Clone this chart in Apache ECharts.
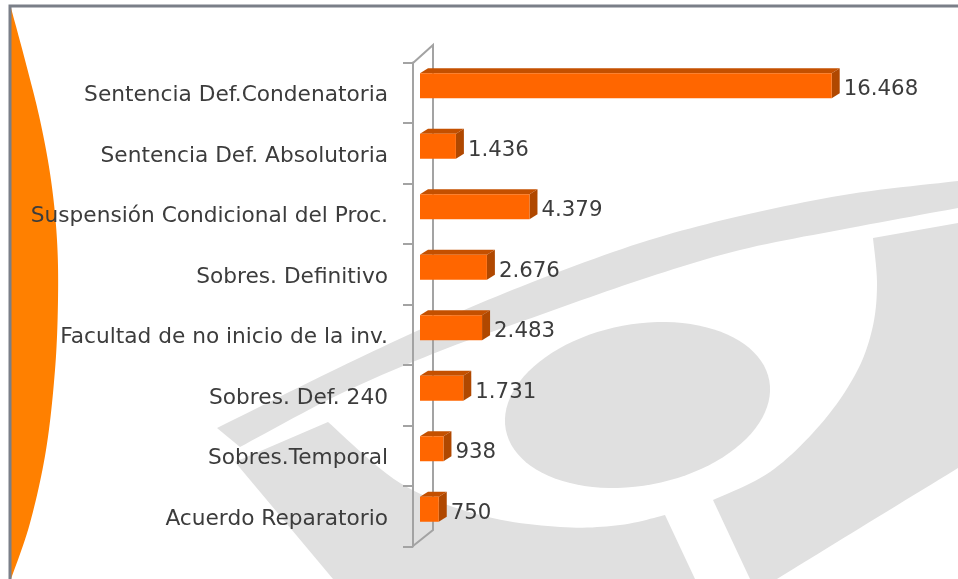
<!DOCTYPE html>
<html>
<head>
<meta charset="utf-8">
<style>
html,body{margin:0;padding:0;background:#fff;}
#c{width:958px;height:579px;filter:blur(0.55px);}
</style>
<script src="https://cdn.jsdelivr.net/npm/echarts@6/dist/echarts.min.js"></script>
</head>
<body>
<div id="c"></div>
<script>
const categories = ['Sentencia Def.Condenatoria','Sentencia Def. Absolutoria','Suspensión Condicional del Proc.','Sobres. Definitivo','Facultad de no inicio de la inv.','Sobres. Def. 240','Sobres.Temporal','Acuerdo Reparatorio'];
const values = [16468,1436,4379,2676,2483,1731,938,750];

const fmt = v => String(v).replace(/\B(?=(\d{3})+$)/g,'.');

// Catmull-Rom sampling of a curved edge into a dense polyline
function curve(p){
  const out=[];
  for(let i=0;i<p.length-1;i++){
    const a=p[Math.max(i-1,0)],b=p[i],c=p[i+1],d=p[Math.min(i+2,p.length-1)];
    for(let k=0;k<12;k++){
      const t=k/12,t2=t*t,t3=t2*t;
      out.push([0,1].map(j=>0.5*(2*b[j]+(c[j]-a[j])*t+(2*a[j]-5*b[j]+4*c[j]-d[j])*t2+(3*b[j]-a[j]-3*c[j]+d[j])*t3)));
    }
  }
  out.push(p[p.length-1]);
  return out;
}
// background eye-logo iris outline
function tiltedEllipse(cx,cy,a,b,deg){
  const pts=[],th=deg*Math.PI/180;
  for(let k=0;k<96;k++){
    const u=k/96*2*Math.PI,x=a*Math.cos(u),y=b*Math.sin(u);
    pts.push([cx+x*Math.cos(th)+y*Math.sin(th),cy-x*Math.sin(th)+y*Math.cos(th)]);
  }
  return pts;
}
const GREY='#e0e0e0';
const shapes=[
  curve([[217,428],[330,372],[430,325],[530,283],[640,243],[740,216],[850,194],[958,181]])
    .concat(curve([[958,208],[850,228],[740,250],[640,280],[540,315],[440,351],[340,394],[240,447]])),
  [[328,422]].concat(curve([[328,422],[400,483],[480,515],[560,527],[620,525],[665,515]])).concat([[695,579],[333,579],[235,462]]),
  [[873,238],[958,223],[958,468]].concat(curve([[958,468],[860,528],[777,579]])).concat([[750,579]]).concat(curve([[713,500],[770,472],[820,425],[855,375],[872,330],[877,285],[873,238]])),
  tiltedEllipse(637.5,405,134,80.6,10.6)
];
const crescent=curve([[11,8],[25,60],[40,120],[51,180],[57,240],[58,300],[55,370],[46,450],[30,523],[11,579]]);

const chart=echarts.init(document.getElementById('c'),null,{renderer:'canvas'});
chart.setOption({
  backgroundColor:'#fff',
  animation:false,
  graphic:{elements:[
    ...shapes.map(s=>({type:'polygon',z:0,silent:true,shape:{points:s},style:{fill:GREY}})),
    {type:'polygon',z:0,silent:true,shape:{points:crescent},style:{fill:'#ff8000'}},
    {type:'polyline',z:1,silent:true,shape:{points:[[10,579],[10,6],[958,6]]},style:{stroke:'#7a7f88',lineWidth:3,fill:null}},
    {type:'polyline',z:1,silent:true,shape:{points:[[413,63],[433,45],[433,530],[413,546]]},style:{stroke:'#a3a3a3',lineWidth:2,fill:null}}
  ]},
  grid:{left:420,top:62.5,width:500,height:484},
  xAxis:{type:'value',min:0,max:20000,show:false},
  yAxis:{type:'category',inverse:true,data:categories,offset:7,z:3,
    axisLine:{show:true,onZero:false,lineStyle:{color:'#a3a3a3',width:2}},
    axisTick:{show:true,length:10,lineStyle:{color:'#a3a3a3',width:2}},
    axisLabel:{margin:25,verticalAlign:'top',lineHeight:6,fontFamily:'DejaVu Sans',fontSize:21.7,color:'#3c3c3c'}
  },
  series:[{
    type:'custom',z:2,
    encode:{x:0,y:1},
    data:values.map((v,i)=>[v,i]),
    renderItem(params,api){
      const v=api.value(0),i=api.value(1);
      const base=api.coord([0,i]),end=api.coord([v,i]);
      const cy=base[1]-7,h=25,dx=8,dy=5;
      const x0=base[0],x1=end[0],t=cy-h/2,b=cy+h/2;
      return {type:'group',children:[
        {type:'polygon',shape:{points:[[x0,t],[x0+dx,t-dy],[x1+dx,t-dy],[x1,t]]},style:{fill:'#c45000'}},
        {type:'polygon',shape:{points:[[x1,t],[x1+dx,t-dy],[x1+dx,b-dy],[x1,b]]},style:{fill:'#b04800'}},
        {type:'rect',shape:{x:x0,y:t,width:x1-x0,height:h},style:{fill:'#ff6600'}},
        {type:'text',style:{text:fmt(v),x:x1+12,y:base[1]-3,fill:'#3c3c3c',font:'21.3px "DejaVu Sans"',textAlign:'left',textVerticalAlign:'middle'}}
      ]};
    }
  }]
});
</script>
</body>
</html>
